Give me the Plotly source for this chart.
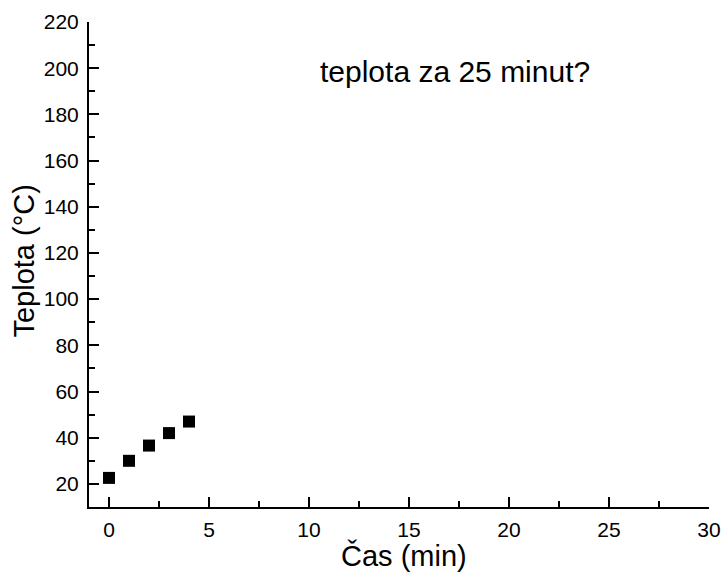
import plotly.graph_objects as go

time_min = [0, 1, 2, 3, 4]
temperature_c = [22.6, 30.0, 36.6, 42.0, 47.0]

x_title = "Čas (min)"
y_title = "Teplota (°C)"
note_text = "teplota za 25 minut?"

FONT = "Liberation Sans, Arial, Helvetica, sans-serif"

fig = go.Figure()
fig.add_trace(go.Scatter(
    x=time_min, y=temperature_c, mode="markers",
    marker=dict(symbol="square", size=12, color="black", line=dict(width=0)),
    showlegend=False,
))

axis_common = dict(
    showline=True, linecolor="black", linewidth=2,
    ticks="inside", ticklen=10, tickwidth=2, tickcolor="black",
    showgrid=False, zeroline=False, mirror=False, automargin=False,
    tickfont=dict(family=FONT, size=21, color="black"),
)

fig.update_xaxes(
    range=[-1, 30], tick0=0, dtick=5, ticklabelstandoff=3,
    minor=dict(ticks="inside", ticklen=6, tickwidth=2, tickcolor="black", dtick=2.5, tick0=0, showgrid=False),
    **axis_common,
)
fig.update_yaxes(
    range=[10, 220], tick0=20, dtick=20, ticklabelstandoff=4,
    minor=dict(ticks="inside", ticklen=6, tickwidth=2, tickcolor="black", dtick=10, tick0=0, showgrid=False),
    **axis_common,
)

fig.add_annotation(
    x=0.508, y=-0.1, xref="paper", yref="paper", text=x_title, showarrow=False,
    font=dict(family=FONT, size=29, color="black"), xanchor="center", yanchor="middle",
)
fig.add_annotation(
    x=-0.105, y=0.508, xref="paper", yref="paper", text=y_title, showarrow=False,
    textangle=-90, font=dict(family=FONT, size=29, color="black"), xanchor="center", yanchor="middle",
)
fig.add_annotation(
    x=17.3, y=198.4, xref="x", yref="y", text=note_text, showarrow=False,
    font=dict(family=FONT, size=30, color="black"), xanchor="center", yanchor="middle",
)

fig.update_layout(
    width=722, height=574,
    margin=dict(l=89, r=13, t=22, b=67, autoexpand=False),
    paper_bgcolor="white", plot_bgcolor="white",
    font=dict(family=FONT, color="black"),
)

fig.write_html("out.html", config={"displayModeBar": False},
               post_script="document.body.style.margin='0';")
